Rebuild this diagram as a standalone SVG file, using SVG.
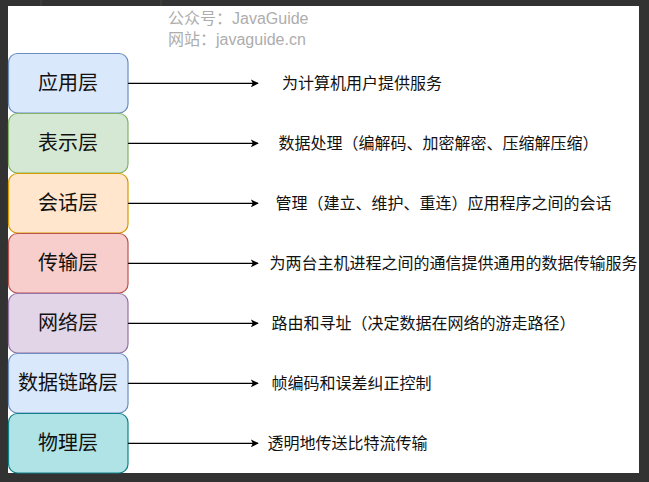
<svg xmlns="http://www.w3.org/2000/svg" width="649" height="482" viewBox="0 0 649 482">
<defs>
<style>
.box{stroke-width:1.2}
.lbl{font-family:"Noto Sans CJK SC","Noto Sans",sans-serif;font-size:20px;fill:#111;text-anchor:middle}
.desc{font-family:"Noto Sans CJK SC","Noto Sans",sans-serif;font-size:16px;fill:#111}
.wm{font-family:"Liberation Sans","Noto Sans CJK SC",sans-serif;font-size:16px;fill:#adadad}
.conn{stroke:#000;stroke-width:1.3;fill:none;marker-end:url(#arr)}
</style>
<marker id="arr" viewBox="0 0 10 10" refX="9" refY="5" markerWidth="8" markerHeight="8" markerUnits="userSpaceOnUse" orient="auto">
<path d="M0,0 L10,5 L0,10 L2.5,5 Z" fill="#000"/>
</marker>
</defs>
<rect x="0" y="0" width="649" height="482" fill="#323232"/>
<line x1="41" y1="0" x2="41" y2="6" stroke="#3f4a3a" stroke-width="1"/>
<line x1="161" y1="0" x2="161" y2="6" stroke="#3f4a3a" stroke-width="1"/>
<rect x="8" y="6" width="631" height="467" fill="#ffffff"/>
<g id="watermark">
<text class="wm" x="168" y="24">公众号：JavaGuide</text>
<text class="wm" x="168" y="45">网站：javaguide.cn</text>
</g>
<g id="n1"><rect class="box" x="8.5" y="53.5" width="119.5" height="59.5" rx="9" fill="#dae8fc" stroke="#6c8ebf"/><text class="lbl" x="68" y="90">应用层</text></g>
<g id="n2"><rect class="box" x="8.5" y="113.5" width="119.5" height="59.5" rx="9" fill="#d5e8d4" stroke="#82b366"/><text class="lbl" x="68" y="150">表示层</text></g>
<g id="n3"><rect class="box" x="8.5" y="173.5" width="119.5" height="59.5" rx="9" fill="#ffe6cc" stroke="#d79b00"/><text class="lbl" x="68" y="210">会话层</text></g>
<g id="n4"><rect class="box" x="8.5" y="233.5" width="119.5" height="59.5" rx="9" fill="#f8cecc" stroke="#b85450"/><text class="lbl" x="68" y="270">传输层</text></g>
<g id="n5"><rect class="box" x="8.5" y="293.5" width="119.5" height="59.5" rx="9" fill="#e1d5e7" stroke="#9673a6"/><text class="lbl" x="68" y="330">网络层</text></g>
<g id="n6"><rect class="box" x="8.5" y="353.5" width="119.5" height="59.5" rx="9" fill="#dae8fc" stroke="#6c8ebf"/><text class="lbl" x="68" y="390">数据链路层</text></g>
<g id="n7"><rect class="box" x="8.5" y="413.5" width="119.5" height="59.5" rx="9" fill="#b0e3e6" stroke="#0e8088"/><text class="lbl" x="68" y="450">物理层</text></g>
<g id="connectors">
<line class="conn" x1="128" y1="83.3" x2="258" y2="83.3"/>
<line class="conn" x1="128" y1="143.3" x2="258" y2="143.3"/>
<line class="conn" x1="128" y1="203.3" x2="258" y2="203.3"/>
<line class="conn" x1="128" y1="263.3" x2="258" y2="263.3"/>
<line class="conn" x1="128" y1="323.3" x2="258" y2="323.3"/>
<line class="conn" x1="128" y1="383.3" x2="258" y2="383.3"/>
<line class="conn" x1="128" y1="443.3" x2="258" y2="443.3"/>
</g>
<g id="descriptions">
<text class="desc" x="282" y="89">为计算机用户提供服务</text>
<text class="desc" x="278.5" y="149">数据处理（编解码、加密解密、压缩解压缩）</text>
<text class="desc" x="275.5" y="209">管理（建立、维护、重连）应用程序之间的会话</text>
<text class="desc" x="269.5" y="269">为两台主机进程之间的通信提供通用的数据传输服务</text>
<text class="desc" x="271.5" y="329">路由和寻址（决定数据在网络的游走路径）</text>
<text class="desc" x="271.5" y="389">帧编码和误差纠正控制</text>
<text class="desc" x="267.5" y="449">透明地传送比特流传输</text>
</g>
</svg>
